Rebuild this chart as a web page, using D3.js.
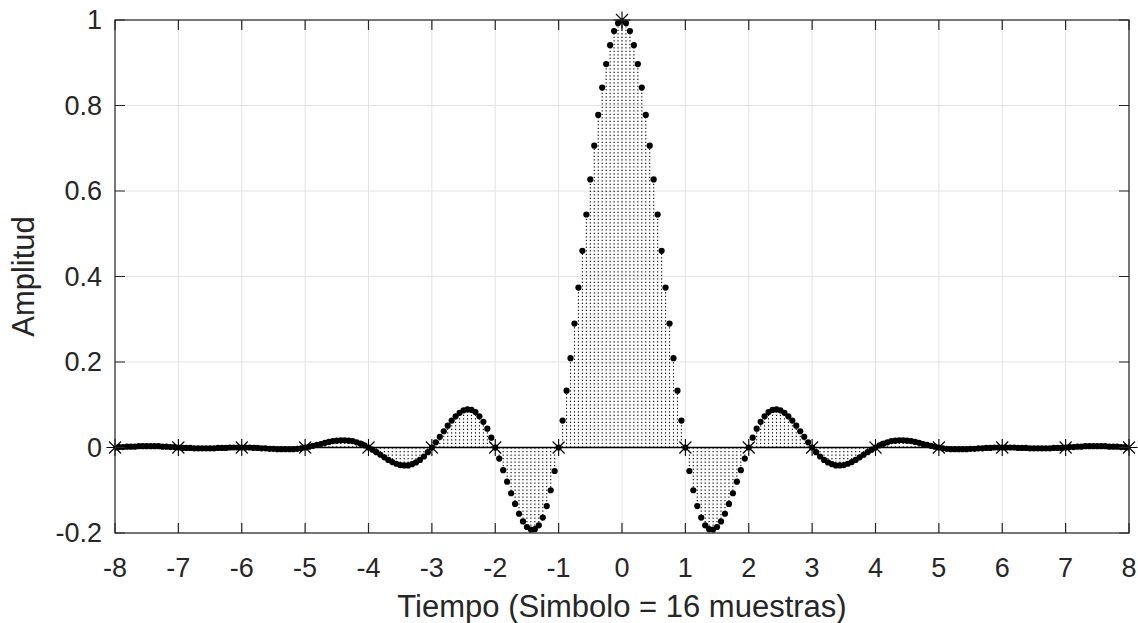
<!DOCTYPE html>
<html>
<head>
<meta charset="utf-8">
<script src="https://cdn.jsdelivr.net/npm/d3@7"></script>
<style>
body { margin: 0; background: #fff; }
svg text { font-family: "Liberation Sans", Arial, sans-serif; fill: #262626; }
</style>
</head>
<body>
<div id="chart"></div>
<script>
// pulso muestreado, 16 muestras por simbolo, de -8 a 8 simbolos
const samplesPerSymbol = 16;
const amplitude = [
  0, 0.001, 0.001, 0.002, 0.002, 0.002, 0.003, 0.003, 0.003, 0.003, 0.003, 0.003, 0.002, 0.002, 0.001, 0.001,
  0, -0.001, -0.001, -0.001, -0.002, -0.002, -0.002, -0.002, -0.002, -0.002, -0.001, -0.001, -0.001, 0, 0, 0,
  0, 0, 0, -0.001, -0.001, -0.002, -0.002, -0.003, -0.003, -0.004, -0.004, -0.004, -0.004, -0.004, -0.003, -0.002,
  0, 0.002, 0.004, 0.006, 0.008, 0.011, 0.013, 0.015, 0.016, 0.017, 0.017, 0.016, 0.015, 0.012, 0.009, 0.005,
  0, -0.005, -0.011, -0.017, -0.023, -0.029, -0.034, -0.038, -0.041, -0.042, -0.042, -0.039, -0.035, -0.029, -0.021, -0.011,
  0, 0.012, 0.025, 0.038, 0.051, 0.063, 0.073, 0.081, 0.087, 0.089, 0.088, 0.083, 0.073, 0.060, 0.044, 0.023,
  0, -0.026, -0.053, -0.080, -0.107, -0.132, -0.155, -0.173, -0.186, -0.192, -0.191, -0.182, -0.164, -0.137, -0.100, -0.055,
  0, 0.063, 0.133, 0.209, 0.290, 0.374, 0.460, 0.545, 0.627, 0.706, 0.778, 0.842, 0.897, 0.941, 0.974, 0.993,
  1,
  0.993, 0.974, 0.941, 0.897, 0.842, 0.778, 0.706, 0.627, 0.545, 0.460, 0.374, 0.290, 0.209, 0.133, 0.063,
  0, -0.055, -0.100, -0.137, -0.164, -0.182, -0.191, -0.192, -0.186, -0.173, -0.155, -0.132, -0.107, -0.080, -0.053, -0.026,
  0, 0.023, 0.044, 0.060, 0.073, 0.083, 0.088, 0.089, 0.087, 0.081, 0.073, 0.063, 0.051, 0.038, 0.025, 0.012,
  0, -0.011, -0.021, -0.029, -0.035, -0.039, -0.042, -0.042, -0.041, -0.038, -0.034, -0.029, -0.023, -0.017, -0.011, -0.005,
  0, 0.005, 0.009, 0.012, 0.015, 0.016, 0.017, 0.017, 0.016, 0.015, 0.013, 0.011, 0.008, 0.006, 0.004, 0.002,
  0, -0.002, -0.003, -0.004, -0.004, -0.004, -0.004, -0.004, -0.003, -0.003, -0.002, -0.002, -0.001, -0.001, 0, 0,
  0, 0, 0, 0, -0.001, -0.001, -0.001, -0.002, -0.002, -0.002, -0.002, -0.002, -0.002, -0.001, -0.001, -0.001,
  0, 0.001, 0.001, 0.002, 0.002, 0.003, 0.003, 0.003, 0.003, 0.003, 0.003, 0.002, 0.002, 0.002, 0.001, 0.001,
  0
];
const xTicks = [-8, -7, -6, -5, -4, -3, -2, -1, 0, 1, 2, 3, 4, 5, 6, 7, 8];
const yTicks = [-0.2, 0, 0.2, 0.4, 0.6, 0.8, 1];
const xLabel = "Tiempo (Simbolo = 16 muestras)";
const yLabel = "Amplitud";

const W = 1138, H = 623;
const margin = {left: 115, right: 9, top: 20, bottom: 90};

const samples = amplitude.map((v, i) => ({t: (i - (amplitude.length - 1) / 2) / samplesPerSymbol, v: v}));
const symbols = samples.filter((d, i) => i % samplesPerSymbol === 0);

const x = d3.scaleLinear().domain([-8, 8]).range([margin.left, W - margin.right]);
const y = d3.scaleLinear().domain([-0.2, 1]).range([H - margin.bottom, margin.top]);

const svg = d3.select("#chart").append("svg")
  .attr("width", W)
  .attr("height", H);

svg.append("defs").append("clipPath").attr("id", "plotclip")
  .append("rect")
  .attr("x", x(-8)).attr("y", y(1))
  .attr("width", x(8) - x(-8)).attr("height", y(-0.2) - y(1));

// grid
const grid = svg.append("g");
grid.selectAll(".gx").data(xTicks).join("line")
  .attr("x1", d => x(d)).attr("x2", d => x(d))
  .attr("y1", y(1)).attr("y2", y(-0.2))
  .attr("stroke", "#e3e3e3").attr("stroke-width", 1);
grid.selectAll(".gy").data(yTicks).join("line")
  .attr("y1", d => y(d)).attr("y2", d => y(d))
  .attr("x1", x(-8)).attr("x2", x(8))
  .attr("stroke", "#e3e3e3").attr("stroke-width", 1);

const plot = svg.append("g").attr("clip-path", "url(#plotclip)");

// stems
plot.append("g").selectAll("line").data(samples).join("line")
  .attr("x1", d => x(d.t)).attr("x2", d => x(d.t))
  .attr("y1", y(0)).attr("y2", d => y(d.v))
  .attr("stroke", "#000")
  .attr("stroke-width", 1.1)
  .attr("stroke-dasharray", "1.2,2.3");

// base line
plot.append("line")
  .attr("x1", x(-8)).attr("x2", x(8))
  .attr("y1", y(0)).attr("y2", y(0))
  .attr("stroke", "#000").attr("stroke-width", 1.3);

// sample markers
plot.append("g").selectAll("circle").data(samples).join("circle")
  .attr("cx", d => x(d.t))
  .attr("cy", d => y(d.v))
  .attr("r", 3.1)
  .attr("fill", "#000");

// asterisks at symbol instants
const ast = 8.5, diag = 6;
const star = svg.append("g").selectAll("g").data(symbols).join("g")
  .attr("transform", d => "translate(" + x(d.t) + "," + y(d.v) + ")");
star.append("path")
  .attr("d", "M0," + (-ast) + "V" + ast + "M" + (-ast) + ",0H" + ast +
    "M" + (-diag) + "," + (-diag) + "L" + diag + "," + diag +
    "M" + (-diag) + "," + diag + "L" + diag + "," + (-diag))
  .attr("stroke", "#000")
  .attr("stroke-width", 1.1)
  .attr("fill", "none");

// axes box and ticks
const axisColor = "#262626";
const tickLen = 10;
const axes = svg.append("g");
axes.append("rect")
  .attr("x", x(-8)).attr("y", y(1))
  .attr("width", x(8) - x(-8)).attr("height", y(-0.2) - y(1))
  .attr("fill", "none").attr("stroke", axisColor).attr("stroke-width", 1.2);

axes.selectAll(".tb").data(xTicks).join("path")
  .attr("d", d => "M" + x(d) + "," + y(-0.2) + "v" + (-tickLen) + "M" + x(d) + "," + y(1) + "v" + tickLen)
  .attr("stroke", axisColor).attr("stroke-width", 1.2);
axes.selectAll(".tl").data(yTicks).join("path")
  .attr("d", d => "M" + x(-8) + "," + y(d) + "h" + tickLen + "M" + x(8) + "," + y(d) + "h" + (-tickLen))
  .attr("stroke", axisColor).attr("stroke-width", 1.2);

axes.selectAll(".xl").data(xTicks).join("text")
  .attr("x", d => x(d))
  .attr("y", y(-0.2) + 44)
  .attr("text-anchor", "middle")
  .attr("font-size", 27)
  .text(d => d);
axes.selectAll(".yl").data(yTicks).join("text")
  .attr("x", x(-8) - 13)
  .attr("y", d => y(d) + 9)
  .attr("text-anchor", "end")
  .attr("font-size", 27)
  .text(d => d);

svg.append("text")
  .attr("x", (x(-8) + x(8)) / 2)
  .attr("y", 617)
  .attr("text-anchor", "middle")
  .attr("font-size", 31)
  .text(xLabel);

svg.append("text")
  .attr("transform", "translate(34," + ((y(1) + y(-0.2)) / 2) + ") rotate(-90)")
  .attr("text-anchor", "middle")
  .attr("font-size", 31)
  .text(yLabel);
</script>
</body>
</html>
